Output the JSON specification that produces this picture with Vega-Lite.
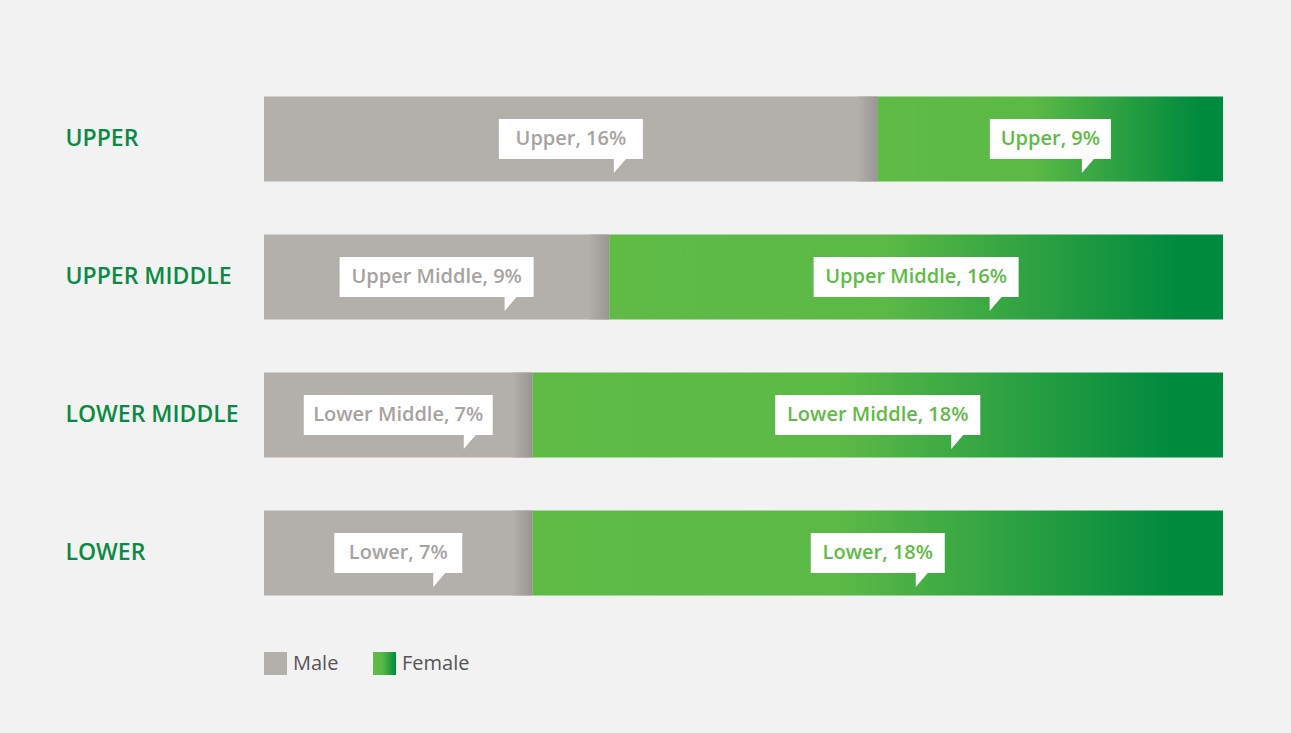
{
  "$schema": "https://vega.github.io/schema/vega-lite/v6.json",
  "width": 959,
  "height": 552,
  "autosize": "none",
  "padding": {"left": 264, "top": 70, "right": 68, "bottom": 111},
  "background": "#f2f2f2",
  "config": {"view": {"stroke": null}, "font": "Open Sans"},
  "data": {"values": [
    {"class": "UPPER", "sex": "Male", "pct": 16, "label": "Upper, 16%"},
    {"class": "UPPER", "sex": "Female", "pct": 9, "label": "Upper, 9%"},
    {"class": "UPPER MIDDLE", "sex": "Male", "pct": 9, "label": "Upper Middle, 9%"},
    {"class": "UPPER MIDDLE", "sex": "Female", "pct": 16, "label": "Upper Middle, 16%"},
    {"class": "LOWER MIDDLE", "sex": "Male", "pct": 7, "label": "Lower Middle, 7%"},
    {"class": "LOWER MIDDLE", "sex": "Female", "pct": 18, "label": "Lower Middle, 18%"},
    {"class": "LOWER", "sex": "Male", "pct": 7, "label": "Lower, 7%"},
    {"class": "LOWER", "sex": "Female", "pct": 18, "label": "Lower, 18%"}
  ]},
  "transform": [
    {"stack": "pct", "groupby": ["class"], "sort": [{"field": "sex", "order": "descending"}], "as": ["x0", "x1"]},
    {"calculate": "(datum.x0 + datum.x1) / 2", "as": "mid"}
  ],
  "encoding": {
    "y": {
      "field": "class", "type": "nominal",
      "sort": ["UPPER", "UPPER MIDDLE", "LOWER MIDDLE", "LOWER"],
      "scale": {"paddingInner": 0.384, "paddingOuter": 0.192},
      "axis": {
        "title": null, "domain": false, "ticks": false,
        "labelAlign": "left", "labelPadding": 199,
        "labelFontSize": 23, "labelFontWeight": 600, "labelColor": "#0a8a43",
        "labelFont": "Open Sans"
      }
    }
  },
  "layer": [
    {
      "transform": [{"filter": "datum.sex === 'Male'"}],
      "mark": {"type": "bar", "color": "#b3afab"},
      "encoding": {
        "x": {"field": "x0", "type": "quantitative", "scale": {"domain": [0, 25], "padding": 0, "nice": false}, "axis": null},
        "x2": {"field": "x1"}
      }
    },
    {
      "transform": [{"filter": "datum.sex === 'Male'"}],
      "mark": {
        "type": "tick", "thickness": 20, "size": 85, "xOffset": -10, "opacity": 1,
        "color": {"gradient": "linear", "x1": 0, "y1": 0, "x2": 1, "y2": 0,
          "stops": [{"offset": 0, "color": "#b3afab"}, {"offset": 1, "color": "#999592"}]}
      },
      "encoding": {
        "x": {"field": "x1", "type": "quantitative"}
      }
    },
    {
      "transform": [{"filter": "datum.sex === 'Female'"}],
      "mark": {
        "type": "bar",
        "color": {"gradient": "linear", "x1": 0, "y1": 0, "x2": 1, "y2": 0,
          "stops": [
            {"offset": 0, "color": "#5fbb46"},
            {"offset": 0.45, "color": "#5bb946"},
            {"offset": 0.93, "color": "#008a3e"},
            {"offset": 1, "color": "#008a3e"}
          ]}
      },
      "encoding": {
        "x": {"field": "x0", "type": "quantitative"},
        "x2": {"field": "x1"}
      }
    },
    {
      "mark": {"type": "point", "filled": true, "color": "white", "opacity": 1, "size": 1600, "strokeWidth": 0},
      "encoding": {
        "x": {"field": "mid", "type": "quantitative"},
        "shape": {
          "field": "label", "type": "nominal", "legend": null,
          "scale": {
            "domain": ["Upper, 16%", "Upper, 9%", "Upper Middle, 9%", "Upper Middle, 16%", "Lower Middle, 7%", "Lower Middle, 18%", "Lower, 7%", "Lower, 18%"],
            "range": [
              "M-3.6,-1H3.6V1H2.75L2.15,1.7V1H-3.6Z",
              "M-3.025,-1H3.025V1H2.175L1.575,1.7V1H-3.025Z",
              "M-4.85,-1H4.85V1H4L3.4,1.7V1H-4.85Z",
              "M-5.125,-1H5.125V1H4.275L3.675,1.7V1H-5.125Z",
              "M-4.725,-1H4.725V1H3.875L3.275,1.7V1H-4.725Z",
              "M-5.125,-1H5.125V1H4.275L3.675,1.7V1H-5.125Z",
              "M-3.2,-1H3.2V1H2.35L1.75,1.7V1H-3.2Z",
              "M-3.35,-1H3.35V1H2.5L1.9,1.7V1H-3.35Z"
            ]
          }
        }
      }
    },
    {
      "mark": {"type": "text", "fontSize": 20, "fontWeight": 600, "font": "Open Sans", "align": "center", "baseline": "middle"},
      "encoding": {
        "x": {"field": "mid", "type": "quantitative"},
        "text": {"field": "label"},
        "color": {"condition": {"test": "datum.sex === 'Male'", "value": "#a7a39f"}, "value": "#5fbb46"}
      }
    },
    {
      "mark": {"type": "square", "opacity": 0, "size": 1},
      "encoding": {
        "x": {"field": "x0", "type": "quantitative"},
        "color": {
          "field": "sex", "type": "nominal",
          "scale": {"domain": ["Male", "Female"], "range": ["#b3afab", {"expr": "{gradient: 'linear', x1: 0, y1: 0, x2: 1, y2: 0, stops: [{offset: 0, color: '#5fbb46'}, {offset: 0.4, color: '#5bb946'}, {offset: 1, color: '#008a3e'}]}"}]},
          "legend": {
            "title": null, "orient": "bottom", "direction": "horizontal",
            "symbolType": "square", "symbolSize": 529, "symbolOpacity": 1, "symbolStrokeWidth": 0,
            "labelFontSize": 20, "labelColor": "#555555", "labelFont": "Open Sans", "labelFontWeight": 400,
            "columnPadding": 34, "labelOffset": 6, "offset": 30, "padding": 0
          }
        }
      }
    }
  ]
}
